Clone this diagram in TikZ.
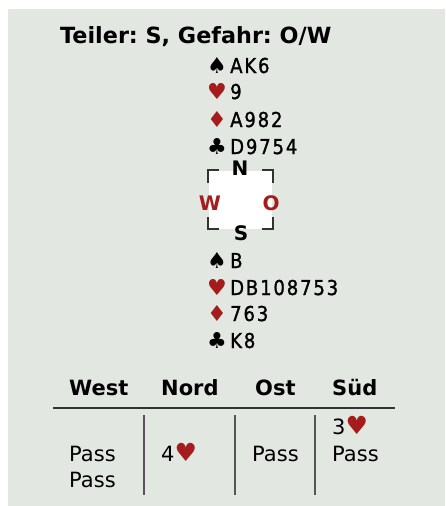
\documentclass[tikz,border=0pt]{standalone}
\usepackage{fontspec}
\setmainfont{DejaVu Sans}
\newfontfamily\handfont[FakeStretch=0.88,FakeBold=1.2,LetterSpace=9]{DejaVu Sans}
\newfontfamily\suitfont{DejaVu Sans}
\definecolor{bg}{HTML}{E2E7E2}
\definecolor{suitred}{HTML}{A51C1C}
\definecolor{rulegray}{HTML}{333333}
\definecolor{colgray}{HTML}{555555}
\newcommand\bidhrt{{\suitfont\fontsize{25}{26}\selectfont\color{suitred}♥}}
\begin{document}
\frenchspacing
\begin{tikzpicture}[x=1pt,y=-1pt,
  titletext/.style={font=\bfseries\fontsize{22.3}{24}\selectfont, anchor=base west, inner sep=0pt},
  cardtext/.style={font=\handfont\fontsize{20.5}{22}\selectfont, anchor=base west, inner sep=0pt},
  suitsym/.style={font=\suitfont\fontsize{22}{24}\selectfont, anchor=base east, inner sep=0pt},
  compassletter/.style={font=\bfseries\fontsize{20}{22}\selectfont, anchor=base, inner sep=0pt},
  headtext/.style={font=\bfseries\fontsize{21}{24}\selectfont, anchor=base west, inner sep=0pt},
  bidtext/.style={font=\fontsize{21}{24}\selectfont, anchor=base west, inner sep=0pt},
  bracket/.style={draw=rulegray, line width=1.5pt},
  colline/.style={draw=colgray, line width=1.8pt}
]
\fill[white] (0,0) rectangle (445,506);
\fill[bg] (8,9) rectangle (445,506);
\useasboundingbox (0,0) rectangle (445,506);

\node[titletext] (title) at (60,43) {Teiler: S, Gefahr: O/W};

% North hand
\node[suitsym] (ns) at (227,73) {♠};
\node[cardtext] (nst) at (230,73) {AK6};
\node[suitsym,text=suitred] (nh) at (227,99) {♥};
\node[cardtext] (nht) at (230,99) {9};
\node[suitsym,text=suitred] (nd) at (227,127) {♦};
\node[cardtext] (ndt) at (230,127) {A982};
\node[suitsym] (nc) at (227,154) {♣};
\node[cardtext] (nct) at (230,154) {D9754};

% compass
\fill[white] (209,171) rectangle (272,229);
\draw[bracket] (208,183) -- (208,170) -- (219,170);
\draw[bracket] (262,170) -- (273,170) -- (273,183);
\draw[bracket] (208,217) -- (208,229) -- (219,229);
\draw[bracket] (262,229) -- (273,229) -- (273,217);
\node[compassletter] (cn) at (240,175) {N};
\node[compassletter,text=suitred] (cw) at (210,210) {W};
\node[compassletter,text=suitred] (co) at (271,210) {O};
\node[compassletter] (cs) at (241,240) {S};

% South hand
\node[suitsym] (ss) at (227,268) {♠};
\node[cardtext] (sst) at (230,268) {B};
\node[suitsym,text=suitred] (sh) at (227,295) {♥};
\node[cardtext] (sht) at (230,295) {DB108753};
\node[suitsym,text=suitred] (sd) at (227,321) {♦};
\node[cardtext] (sdt) at (230,321) {763};
\node[suitsym] (sc) at (227,348) {♣};
\node[cardtext] (sct) at (230,348) {K8};

% bidding table
\node[headtext] (hw) at (69,395) {West};
\node[headtext] (hn) at (161,395) {Nord};
\node[headtext] (ho) at (255,395) {Ost};
\node[headtext] (hs) at (332,395) {Süd};
\coordinate (rl) at (53,408);
\coordinate (rr) at (395,408);
\draw[draw=rulegray, line width=1.8pt] (rl) -- (rr);
\coordinate (c1t) at (144,415); \coordinate (c1b) at (144,495);
\coordinate (c2t) at (235,415); \coordinate (c2b) at (235,495);
\coordinate (c3t) at (315,415); \coordinate (c3b) at (315,495);
\draw[colline] (c1t) -- (c1b);
\draw[colline] (c2t) -- (c2b);
\draw[colline] (c3t) -- (c3b);

\node[bidtext] (w1) at (69,461) {Pass};
\node[bidtext] (w2) at (69,487) {Pass};
\node[bidtext] (n1) at (161,461) {4\bidhrt};
\node[bidtext] (o1) at (252,461) {Pass};
\node[bidtext] (s1) at (332,434) {3\bidhrt};
\node[bidtext] (s2) at (332,461) {Pass};
\end{tikzpicture}
\end{document}
